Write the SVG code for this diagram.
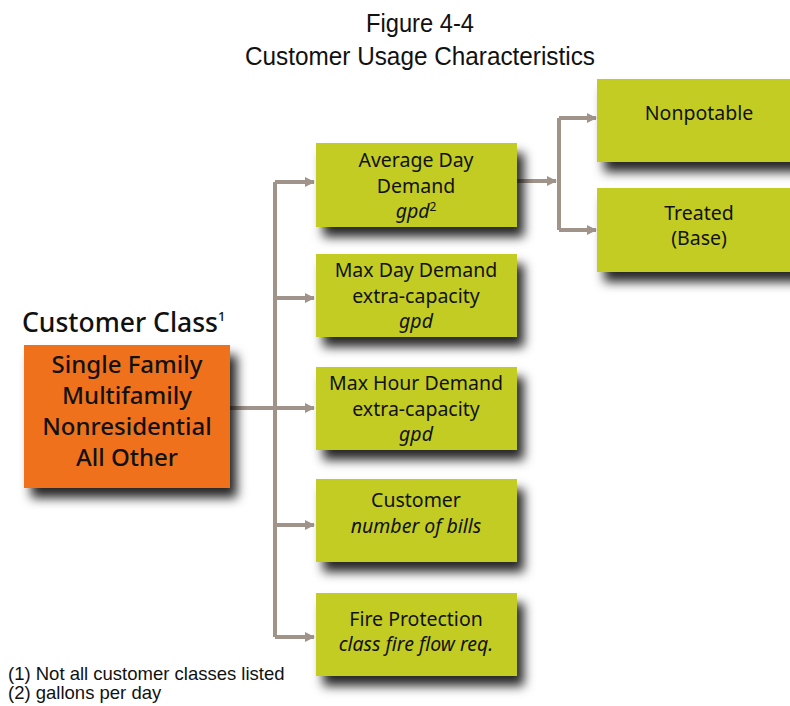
<svg xmlns="http://www.w3.org/2000/svg" width="790" height="706" viewBox="0 0 790 706">
  <defs>
    <filter id="shadow" x="-10%" y="-10%" width="135%" height="150%">
      <feDropShadow dx="7" dy="10" stdDeviation="5.5" flood-color="#000" flood-opacity="0.85"/>
    </filter>
    <marker id="arrow" viewBox="0 0 10 10" refX="9" refY="5" markerWidth="10" markerHeight="10" markerUnits="userSpaceOnUse" orient="auto">
      <path d="M0,0 L10,5 L0,10 Z" fill="#a0948a"/>
    </marker>
    <style>
      .title { font-family: "Liberation Sans", Arial, sans-serif; font-size: 25px; fill: #111; text-anchor: middle; }
      .green { fill: #c3cc24; filter: url(#shadow); }
      .orange { fill: #f0711f; filter: url(#shadow); }
      .lbl { font-family: "Noto Sans", "DejaVu Sans", sans-serif; font-size: 19.5px; font-weight: 450; fill: #111; text-anchor: middle; }
      .it { font-style: italic; }
      .big { font-family: "Noto Sans", "DejaVu Sans", sans-serif; font-size: 24px; font-weight: 500; fill: #111; text-anchor: middle; }
      .head { font-family: "Noto Sans", "DejaVu Sans", sans-serif; font-size: 26.5px; font-weight: 500; fill: #111; }
      .note { font-family: "Liberation Sans", Arial, sans-serif; font-size: 18.5px; fill: #111; }
      .conn { fill: none; stroke: #a0948a; stroke-width: 4; }
    </style>
  </defs>

  <!-- heading -->
  <text class="title" x="420" y="32" textLength="108" lengthAdjust="spacingAndGlyphs">Figure 4-4</text>
  <text class="title" x="420" y="65" textLength="350" lengthAdjust="spacingAndGlyphs">Customer Usage Characteristics</text>

  <!-- connectors -->
  <g id="connectors">
    <path class="conn" d="M230,408 H275"/>
    <path class="conn" d="M275,182 V637"/>
    <path class="conn" d="M275,182 H314" marker-end="url(#arrow)"/>
    <path class="conn" d="M275,298 H314" marker-end="url(#arrow)"/>
    <path class="conn" d="M275,408 H314" marker-end="url(#arrow)"/>
    <path class="conn" d="M275,525 H314" marker-end="url(#arrow)"/>
    <path class="conn" d="M275,637 H314" marker-end="url(#arrow)"/>
    <path class="conn" d="M517,181 H556" marker-end="url(#arrow)"/>
    <path class="conn" d="M559,118 V230"/>
    <path class="conn" d="M559,118 H596" marker-end="url(#arrow)"/>
    <path class="conn" d="M559,230 H596" marker-end="url(#arrow)"/>
  </g>

  <!-- customer class -->
  <text class="head" x="22" y="332">Customer Class<tspan font-size="13" dy="-11">1</tspan></text>
  <g id="customer-class">
    <rect class="orange" x="24" y="345" width="206" height="143"/>
    <text class="big" x="127" y="373">Single Family</text>
    <text class="big" x="127" y="404">Multifamily</text>
    <text class="big" x="127" y="435">Nonresidential</text>
    <text class="big" x="127" y="466">All Other</text>
  </g>

  <g id="average-day">
    <rect class="green" x="316" y="143" width="201" height="84"/>
    <text class="lbl" x="416" y="167">Average Day</text>
    <text class="lbl" x="416" y="193">Demand</text>
    <text class="lbl" x="416" y="218"><tspan class="it">gpd</tspan><tspan font-size="12" dy="-7">2</tspan></text>
  </g>

  <g id="max-day">
    <rect class="green" x="316" y="254" width="201" height="83"/>
    <text class="lbl" x="416" y="277">Max Day Demand</text>
    <text class="lbl" x="416" y="303">extra-capacity</text>
    <text class="lbl it" x="416" y="328">gpd</text>
  </g>

  <g id="max-hour">
    <rect class="green" x="316" y="367" width="201" height="83"/>
    <text class="lbl" x="416" y="390">Max Hour Demand</text>
    <text class="lbl" x="416" y="416">extra-capacity</text>
    <text class="lbl it" x="416" y="441">gpd</text>
  </g>

  <g id="customer">
    <rect class="green" x="316" y="479" width="201" height="83"/>
    <text class="lbl" x="416" y="507">Customer</text>
    <text class="lbl it" x="416" y="533">number of bills</text>
  </g>

  <g id="fire-protection">
    <rect class="green" x="316" y="593" width="201" height="83"/>
    <text class="lbl" x="416" y="626">Fire Protection</text>
    <text class="lbl it" x="416" y="651">class fire flow req.</text>
  </g>

  <g id="nonpotable">
    <rect class="green" x="597" y="79" width="200" height="83"/>
    <text class="lbl" x="699" y="120">Nonpotable</text>
  </g>

  <g id="treated">
    <rect class="green" x="597" y="188" width="200" height="84"/>
    <text class="lbl" x="699" y="220">Treated</text>
    <text class="lbl" x="699" y="245">(Base)</text>
  </g>

  <!-- footnotes -->
  <text class="note" x="8" y="680">(1) Not all customer classes listed</text>
  <text class="note" x="8" y="699">(2) gallons per day</text>
</svg>
